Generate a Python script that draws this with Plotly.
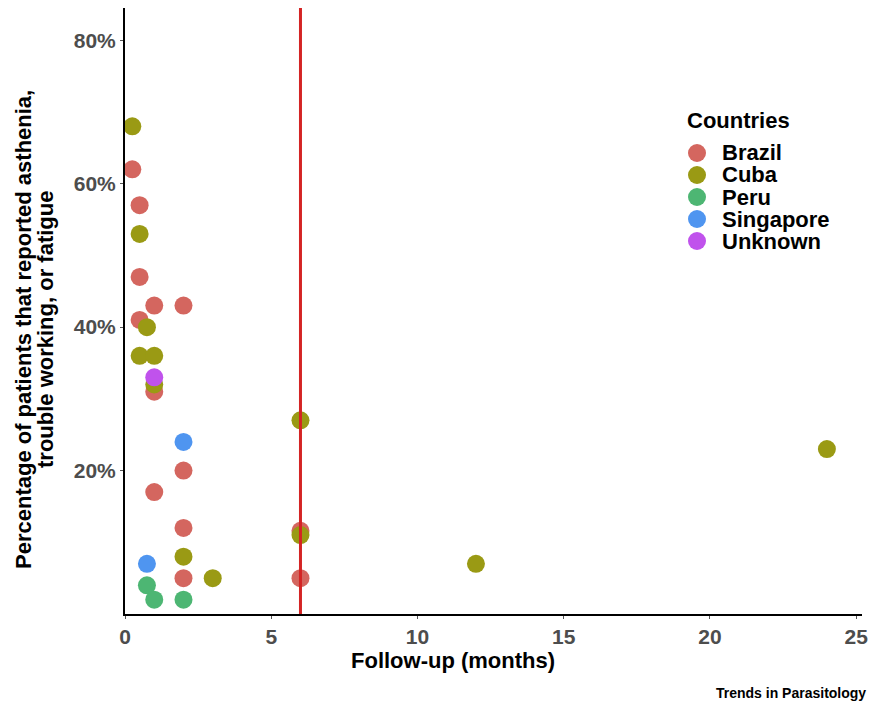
import plotly.graph_objects as go

# ---- data ----
brazil_x = [0.25, 0.5, 0.5, 1, 2, 0.5, 1, 2, 1, 2, 6, 2, 6]
brazil_y = [62, 57, 47, 43, 43, 41, 31, 20, 17, 12, 11.6, 5, 5]

cuba_x = [0.25, 0.5, 0.5, 1, 0.75, 1, 6, 6, 2, 3, 12, 24]
cuba_y = [68, 53, 36, 36, 40, 32, 27, 11, 8, 5, 7, 23]

peru_x = [0.75, 1, 2]
peru_y = [4, 2, 2]

singapore_x = [0.75, 2]
singapore_y = [7, 24]

unknown_x = [1]
unknown_y = [33]

countries = ["Brazil", "Cuba", "Peru", "Singapore", "Unknown"]
colors = ["#D4665F", "#9A9A14", "#4DB673", "#4F95F0", "#C052EC"]

x_ticks = [0, 5, 10, 15, 20, 25]
y_ticks = [20, 40, 60, 80]
cutoff_months = 6

series = [
    (brazil_x, brazil_y),
    (cuba_x, cuba_y),
    (peru_x, peru_y),
    (singapore_x, singapore_y),
    (unknown_x, unknown_y),
]

FONT = "Liberation Sans"
L, R, T, B = 125, 8, 8, 88
W, H = 870, 702
PW, PH = W - L - R, H - T - B


def px(xp):
    return (xp - L) / PW


def py(yp):
    return (H - B - yp) / PH


fig = go.Figure()
for name, color, (xs, ys) in zip(countries, colors, series):
    fig.add_trace(go.Scatter(
        x=xs, y=ys, mode="markers", name=name,
        marker=dict(size=18, color=color, line=dict(width=0)),
        showlegend=False,
    ))

fig.add_shape(type="line", xref="x", yref="paper", x0=cutoff_months, x1=cutoff_months,
              y0=0, y1=1, line=dict(color="#D42424", width=3), layer="above")

annotations = [
    dict(text="Percentage of patients that reported asthenia,",
         xref="paper", yref="paper", x=px(23), y=py(330),
         xanchor="center", yanchor="middle", textangle=-90, showarrow=False,
         font=dict(size=22, weight="bold", color="black")),
    dict(text="trouble working, or fatigue",
         xref="paper", yref="paper", x=px(45), y=py(330),
         xanchor="center", yanchor="middle", textangle=-90, showarrow=False,
         font=dict(size=22, weight="bold", color="black")),
    dict(text="Follow-up (months)", xref="paper", yref="paper",
         x=px(453), y=py(660), xanchor="center", yanchor="middle",
         showarrow=False, font=dict(size=22, weight="bold", color="black")),
    dict(text="Trends in Parasitology", xref="paper", yref="paper",
         x=px(868), y=py(693), xanchor="right", yanchor="middle",
         showarrow=False,
         font=dict(size=14, weight="bold", color="black",
                   family="Liberation Sans Narrow, Liberation Sans")),
    dict(text="Countries", xref="paper", yref="paper",
         x=px(685), y=py(121), xanchor="left", yanchor="middle",
         showarrow=False, font=dict(size=22, weight="bold", color="black")),
]

# legend entries
legend_y0, legend_dy = 153, 22
for i, (name, color) in enumerate(zip(countries, colors)):
    yc = legend_y0 + i * legend_dy
    fig.add_shape(type="circle", xref="paper", yref="paper",
                  xsizemode="pixel", ysizemode="pixel",
                  xanchor=px(697), yanchor=py(yc),
                  x0=-9, x1=9, y0=-9, y1=9,
                  fillcolor=color, line=dict(width=0))
    annotations.append(dict(text=name, xref="paper", yref="paper",
                            x=px(720), y=py(yc), xanchor="left", yanchor="middle",
                            showarrow=False,
                            font=dict(size=22, weight="bold", color="black")))

fig.update_layout(
    width=W, height=H,
    margin=dict(l=L, r=R, t=T, b=B, autoexpand=False),
    plot_bgcolor="white", paper_bgcolor="white",
    font=dict(family=FONT, color="black"),
    showlegend=False,
    xaxis=dict(
        range=[0, 25.2], tickvals=x_ticks, ticktext=[str(v) for v in x_ticks],
        showgrid=False, zeroline=False, automargin=False,
        showline=True, linecolor="black", linewidth=2,
        ticks="outside", ticklen=3, tickcolor="#555", tickwidth=1,
        ticklabeloverflow="allow",
        tickfont=dict(size=21, weight="bold", color="#4D4D4D"),
    ),
    yaxis=dict(
        range=[0, 84.5], tickvals=y_ticks, ticktext=[f"{v}%" for v in y_ticks],
        showgrid=False, zeroline=False, automargin=False,
        showline=True, linecolor="black", linewidth=2,
        ticks="outside", ticklen=3, tickcolor="#555", tickwidth=1,
        tickfont=dict(size=21, weight="bold", color="#4D4D4D"),
    ),
    annotations=annotations,
)

fig.write_html("out.html", config={"displayModeBar": False},
               post_script="document.body.style.margin='0px';")
